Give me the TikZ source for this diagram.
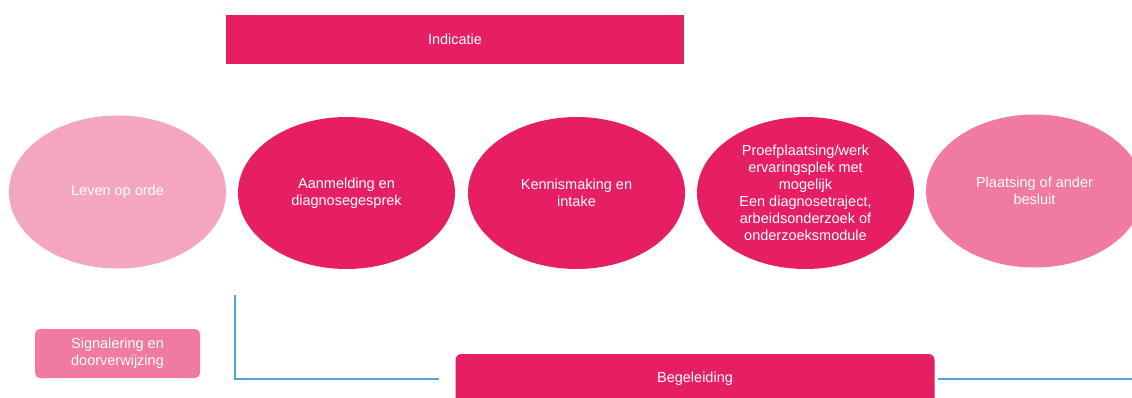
\documentclass[tikz,border=0pt]{standalone}
\usepackage{fontspec}
\setmainfont{Liberation Sans}
\usetikzlibrary{shapes.geometric}
\definecolor{darkpink}{HTML}{E61F64}
\definecolor{lightpink}{HTML}{F4A6C1}
\definecolor{midpink}{HTML}{F07AA0}
\definecolor{lineblue}{HTML}{4DA6E0}
\tikzset{
  txt/.style={text=white, font=\fontsize{14.5}{17}\selectfont, align=center, inner sep=0pt},
  oval/.style={txt, ellipse, minimum width=217pt, minimum height=152pt},
  bar/.style={txt, rectangle, minimum height=49pt},
  link/.style={draw=lineblue, line width=1.3pt}
}
\begin{document}
\begin{tikzpicture}[x=1pt,y=-1pt]
\useasboundingbox (0,0) rectangle (1132,398);
\clip (0,0) rectangle (1132,398);
\fill[white] (0,0) rectangle (1132,398);
\node[bar, fill=darkpink, minimum width=458pt] (ind) at (455,39.5) {Indicatie};
\node[oval, fill=lightpink, minimum height=153pt] (e1) at (117.5,192) {Leven op orde};
\node[oval, fill=darkpink] (e2) at (346.5,193) {Aanmelding en\\diagnosegesprek};
\node[oval, fill=darkpink] (e3) at (576.5,193) {Kennismaking en\\intake};
\node[oval, fill=darkpink] (e4) at (805.5,193) {Proefplaatsing/werk\\ervaringsplek met\\mogelijk\\Een diagnosetraject,\\arbeidsonderzoek of\\onderzoeksmodule};
\node[oval, fill=midpink, minimum height=153pt] (e5) at (1034.5,191) {Plaatsing of ander\\besluit};
\node[txt, fill=midpink, rounded corners=5pt, minimum width=165pt, minimum height=49pt] (sig) at (117.5,353.5) {Signalering en\\doorverwijzing};
\node[txt, fill=darkpink, rounded corners=6pt, minimum width=479pt, minimum height=50pt] (beg) at (695,379) {Begeleiding};
\coordinate (top) at (235,295);
\coordinate (rend) at (1132,379);
\draw[link, shorten >=16pt] (top) |- (beg.west);
\draw[link, shorten <=3pt] (beg.east) -- (rend);
\end{tikzpicture}
\end{document}
